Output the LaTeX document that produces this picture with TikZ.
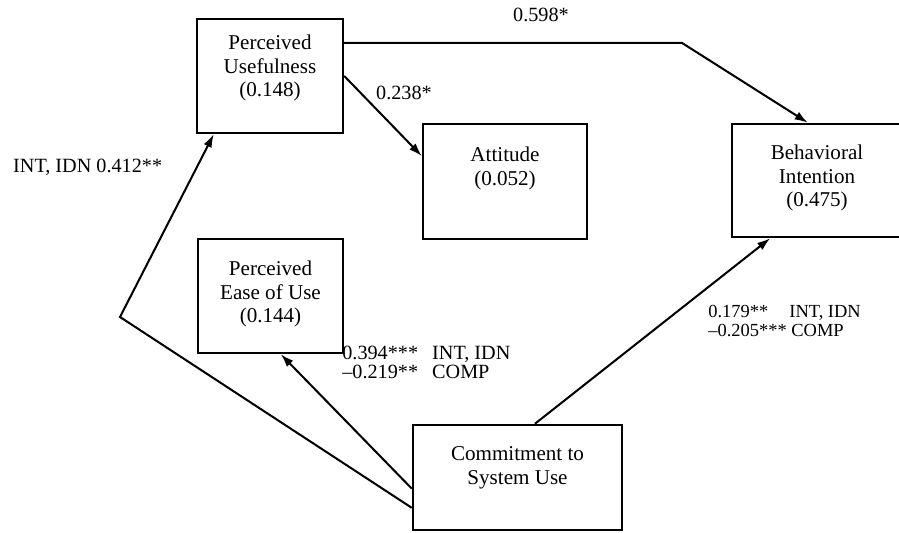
\documentclass[tikz,border=0pt]{standalone}
\usepackage{fontspec}
\setmainfont{Liberation Serif}
\usetikzlibrary{arrows.meta}

\tikzset{
  box/.style={draw, line width=1.4pt, inner sep=0pt},
  boxtext/.style={align=center, font=\fontsize{12}{13.4}\selectfont},
  coef/.style={font=\fontsize{11.5}{11}\selectfont},
  path/.style={line width=1.15pt, -{Latex[length=7.5pt,width=5pt]}}
}

\begin{document}
\begin{tikzpicture}
  \useasboundingbox (0,0) rectangle (17.98,10.66);

  % constructs
  \node[box, minimum width=2.92cm, minimum height=2.28cm] (pu) at (5.40,9.14) {};
  \node[boxtext] (putext) at ([yshift=0.16cm]pu) {Perceived\\Usefulness\\(0.148)};

  \node[box, minimum width=3.28cm, minimum height=2.30cm] (att) at (10.10,7.03) {};
  \node[boxtext] (atttext) at ([yshift=0.26cm]att) {Attitude\\(0.052)};

  \node[box, minimum width=3.40cm, minimum height=2.26cm] (bi) at (16.34,7.05) {};
  \node[boxtext] (bitext) at ([yshift=0.05cm]bi) {Behavioral\\Intention\\(0.475)};

  \node[box, minimum width=2.90cm, minimum height=2.28cm] (peou) at (5.41,4.74) {};
  \node[boxtext] (peoutext) at ([yshift=0.04cm]peou) {Perceived\\Ease of Use\\(0.144)};

  \node[box, minimum width=4.18cm, minimum height=2.10cm] (csu) at (10.35,1.11) {};
  \node[boxtext] (csutext) at ([yshift=0.19cm]csu) {Commitment to\\System Use};

  % bends
  \coordinate (kx) at (13.64,0);
  \coordinate (kbi) at (kx |- pu.24);
  \coordinate (kpu) at (2.40,4.32);

  % paths
  \draw[path] (pu.24) -- (kbi) -- (bi.99);
  \draw[path] (pu.east) -- (att.163);
  \draw[path] (csu.196) -- (kpu) -- (pu.226);
  \draw[path] (csu.186) -- (peou.280);
  \draw[path] (csu.72) -- (bi.231);

  % coefficients
  \node[coef] (c598) at (10.82,10.36) {0.598*};
  \node[coef] (c238) at (8.08,8.80) {0.238*};
  \node[coef, anchor=west] (c412) at (0.14,7.32) {INT, IDN 0.412**};
  \node[coef, anchor=west, inner sep=0pt] (c394) at (6.84,3.36)
    {\begin{tabular}{@{}l@{\hspace{8pt}}l@{}}0.394*** & INT, IDN\\–0.219** & COMP\end{tabular}};
  \node[coef, anchor=west, align=left, inner sep=0pt, font=\fontsize{10.5}{10.5}\selectfont] (c179) at (14.16,4.24)
    {0.179**\hspace{12pt}INT, IDN\\–0.205*** COMP};
\end{tikzpicture}
\end{document}
